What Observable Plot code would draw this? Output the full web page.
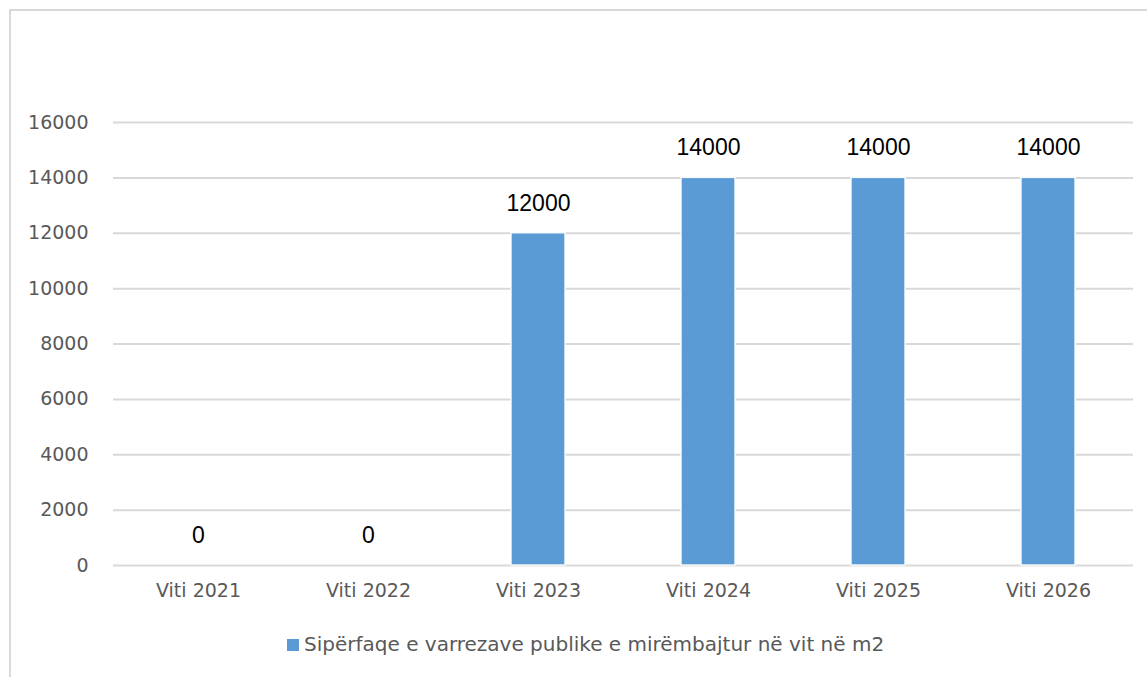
<!DOCTYPE html>
<html>
<head>
<meta charset="utf-8">
<script src="https://cdn.jsdelivr.net/npm/d3@7"></script>
<script src="https://cdn.jsdelivr.net/npm/@observablehq/plot@0.6"></script>
<style>
  body { margin: 0; background: #fff; width: 1147px; height: 677px; overflow: hidden; position: relative; }
  #frame { position: absolute; left: 9px; top: 9px; width: 1150px; height: 680px; border: 2px solid #d9d9d9; box-sizing: border-box; }
  #chart { position: absolute; left: 0; top: 0; }
  #legend { position: absolute; left: 0; top: 632px; width: 1147px; text-align: left; font-family: "DejaVu Sans"; font-size: 20px; color: #595959; }
  #legend .sw { display: inline-block; width: 12px; height: 12px; background: #5b9bd5; margin-right: 5px; vertical-align: 0px; }
  #legend .item { position: absolute; left: 287px; white-space: nowrap; }
</style>
</head>
<body>
<div id="frame"></div>
<div id="chart"></div>
<div id="legend"><span class="item"><span class="sw"></span><span id="legtext"></span></span></div>
<script>
const categories = ["Viti 2021", "Viti 2022", "Viti 2023", "Viti 2024", "Viti 2025", "Viti 2026"];
const values = [0, 0, 12000, 14000, 14000, 14000];
const yTicks = [0, 2000, 4000, 6000, 8000, 10000, 12000, 14000, 16000];
const seriesName = "Sipërfaqe e varrezave publike e mirëmbajtur në vit në m2";

const data = categories.map((c, i) => ({ cat: c, value: values[i] }));

const chart = Plot.plot({
  width: 1147,
  height: 615,
  marginLeft: 113,
  marginRight: 14,
  marginTop: 122,
  marginBottom: 50,
  style: { fontFamily: "DejaVu Sans", fontSize: "19px", color: "#595959", background: "transparent" },
  x: { domain: categories, paddingInner: 0.68, paddingOuter: 0.34, label: null },
  y: { domain: [0, 16000], label: null },
  marks: [
    Plot.ruleY(yTicks, { stroke: "#d9d9d9", strokeWidth: 2, strokeOpacity: 1 }),
    Plot.barY(data, { x: "cat", y: "value", fill: "#5b9bd5", stroke: "#ffffff", strokeWidth: 1.5, strokeOpacity: 0.9 }),
    Plot.text(data, { x: "cat", y: "value", text: d => String(d.value), dy: -30, fill: "#000", fontFamily: "Liberation Sans", fontSize: 23 }),
    Plot.axisX({ tickSize: 0, tickPadding: 18, fontSize: 19, fill: "#595959" }),
    Plot.axisY({ ticks: yTicks, tickSize: 0, tickPadding: 25, fontSize: 19, fill: "#595959", tickFormat: d => String(d) })
  ]
});
document.getElementById("chart").appendChild(chart);
document.getElementById("legtext").textContent = seriesName;
</script>
</body>
</html>
